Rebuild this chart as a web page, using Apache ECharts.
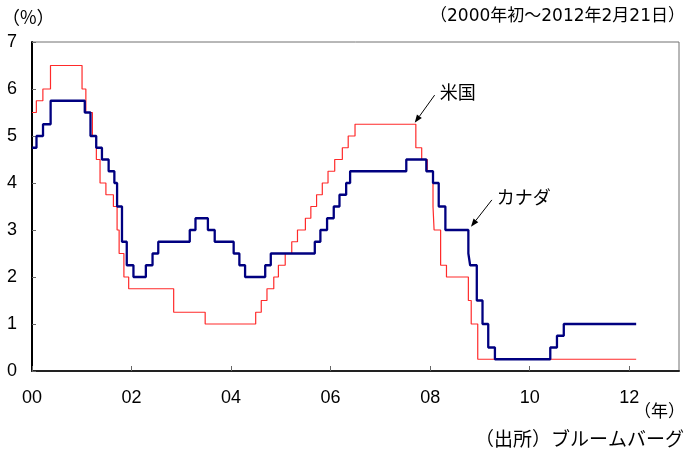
<!DOCTYPE html>
<html>
<head>
<meta charset="UTF-8">
<title>米国とカナダの政策金利</title>
<script src="https://cdn.jsdelivr.net/npm/echarts@6/dist/echarts.min.js"></script>
<style>
  html, body { margin: 0; padding: 0; background: #fff; }
  #main { width: 689px; height: 456px; }
</style>
</head>
<body>
<div id="main"></div>
<script>
// 米国 FF金利誘導目標（変更日, 水準%）
var usDates = ['2000-01-01','2000-02-02','2000-03-21','2000-05-16','2001-01-03','2001-01-31','2001-03-20','2001-04-18',
  '2001-05-15','2001-06-27','2001-08-21','2001-09-17','2001-10-02','2001-11-06','2001-12-11','2002-11-06','2003-06-25',
  '2004-06-30','2004-08-10','2004-09-21','2004-11-10','2004-12-14','2005-02-02','2005-03-22','2005-05-03','2005-06-30',
  '2005-08-09','2005-09-20','2005-11-01','2005-12-13','2006-01-31','2006-03-28','2006-05-10','2006-06-29','2007-09-18',
  '2007-10-31','2007-12-11','2008-01-22','2008-01-30','2008-03-18','2008-04-30','2008-10-08','2008-10-29','2008-12-16',
  '2012-02-21'];
var usRates = [5.5, 5.75, 6.0, 6.5, 6.0, 5.5, 5.0, 4.5,
  4.0, 3.75, 3.5, 3.0, 2.5, 2.0, 1.75, 1.25, 1.0,
  1.25, 1.5, 1.75, 2.0, 2.25, 2.5, 2.75, 3.0, 3.25,
  3.5, 3.75, 4.0, 4.25, 4.5, 4.75, 5.0, 5.25, 4.75,
  4.5, 4.25, 3.5, 3.0, 2.25, 2.0, 1.5, 1.0, 0.25,
  0.25];

// カナダ 翌日物金利誘導目標
var caDates = ['2000-01-01','2000-02-03','2000-03-22','2000-05-17','2001-01-23','2001-03-06','2001-04-17','2001-05-29',
  '2001-07-17','2001-08-28','2001-09-17','2001-10-23','2001-11-27','2002-01-15','2002-04-16','2002-06-04','2002-07-16',
  '2003-03-04','2003-04-15','2003-07-15','2003-09-03','2004-01-20','2004-03-02','2004-04-13','2004-09-08','2004-10-19',
  '2005-09-07','2005-10-18','2005-12-06','2006-01-24','2006-03-07','2006-04-25','2006-05-24','2007-07-10','2007-12-04',
  '2008-01-22','2008-03-04','2008-04-22','2008-10-08','2008-10-21','2008-12-09','2009-01-20','2009-03-03','2009-04-21',
  '2010-06-01','2010-07-20','2010-09-08','2012-02-21'];
var caRates = [4.75, 5.0, 5.25, 5.75, 5.5, 5.0, 4.75, 4.5,
  4.25, 4.0, 3.5, 2.75, 2.25, 2.0, 2.25, 2.5, 2.75,
  3.0, 3.25, 3.0, 2.75, 2.5, 2.25, 2.0, 2.25, 2.5,
  2.75, 3.0, 3.25, 3.5, 3.75, 4.0, 4.25, 4.5, 4.25,
  4.0, 3.5, 3.0, 2.5, 2.25, 1.5, 1.0, 0.5, 0.25,
  0.5, 0.75, 1.0, 1.0];

var yearTicks = ['00', '02', '04', '06', '08', '10', '12'];

// 注記: [テキスト, 矢印の始点(年,%), 矢印の先端(年,%)]
var notes = [
  ['米国',   [8.09, 5.87], [7.69, 5.28]],
  ['カナダ', [9.24, 3.64], [8.82, 3.07]]
];

function toYear(s) {
  var p = s.split('-').map(Number);
  var t0 = Date.UTC(p[0], 0, 1), t1 = Date.UTC(p[0] + 1, 0, 1);
  return (p[0] - 2000) + (Date.UTC(p[0], p[1] - 1, p[2]) - t0) / (t1 - t0);
}
function pairs(dates, vals) {
  return dates.map(function (d, i) { return [toYear(d), vals[i]]; });
}

var jpFont = '"Noto Sans CJK JP", sans-serif';
var numFont = '"Liberation Sans", Arial, sans-serif';

function txt(opt, s, size, fam) {
  opt.type = 'text';
  opt.z = 10;
  opt.style = { text: s, fontSize: size, fontFamily: fam || jpFont, fontWeight: 'normal', fill: '#000' };
  return opt;
}

var chart = echarts.init(document.getElementById('main'));
chart.setOption({
  animation: false,
  backgroundColor: '#fff',
  grid: { left: 32, right: 10, top: 42, bottom: 85, show: true, borderColor: '#707070', borderWidth: 1 },
  xAxis: {
    type: 'value', min: 0, max: 13, interval: 2,
    splitLine: { show: false },
    axisLine: { lineStyle: { color: '#222', width: 2 } },
    axisTick: { inside: true, length: 5, lineStyle: { color: '#666' } },
    axisLabel: {
      showMaxLabel: false, margin: 18, color: '#000', fontSize: 18, fontFamily: numFont,
      formatter: function (v) { return yearTicks[v / 2] || ''; }
    }
  },
  yAxis: {
    type: 'value', min: 0, max: 7, interval: 1,
    splitLine: { show: false },
    axisLine: { lineStyle: { color: '#000', width: 2 } },
    axisTick: { inside: true, length: 4, lineStyle: { color: '#666' } },
    axisLabel: { margin: 15, color: '#000', fontSize: 18, fontFamily: numFont }
  },
  series: [
    {
      name: '米国', type: 'line', step: 'end', showSymbol: false,
      data: pairs(usDates, usRates),
      lineStyle: { color: '#ff2a2a', width: 1.2 }, z: 2
    },
    {
      name: 'カナダ', type: 'line', step: 'end', showSymbol: false,
      data: pairs(caDates, caRates),
      lineStyle: { color: '#000080', width: 2.3 }, z: 3
    }
  ]
});

// 見出し・出所・注記をまとめて配置
var mixFont = '"DejaVu Sans", "Noto Sans CJK JP", sans-serif';
var gfx = [
  txt({ left: 2, top: 8 }, '（%）', 18),
  txt({ right: 4, top: 8 }, '（2000年初～2012年2月21日）', 17, mixFont),
  txt({ right: 4, top: 402 }, '（年）', 17),
  txt({ right: 5, top: 429 }, '（出所）ブルームバーグ', 19)
];
notes.forEach(function (n) {
  var a = chart.convertToPixel({ gridIndex: 0 }, n[1]);
  var b = chart.convertToPixel({ gridIndex: 0 }, n[2]);
  var ang = Math.atan2(b[1] - a[1], b[0] - a[0]);
  var L = 8, W = 3;
  var bx = b[0] - L * Math.cos(ang), by = b[1] - L * Math.sin(ang);
  gfx.push({ type: 'line', z: 10, shape: { x1: a[0], y1: a[1], x2: bx, y2: by }, style: { stroke: '#000', lineWidth: 1 } });
  gfx.push({
    type: 'polygon', z: 10,
    shape: { points: [[b[0], b[1]], [bx + W * Math.sin(ang), by - W * Math.cos(ang)], [bx - W * Math.sin(ang), by + W * Math.cos(ang)]] },
    style: { fill: '#000' }
  });
  gfx.push(txt({ x: a[0] + 5, y: a[1] - 12 }, n[0], 18));
});
chart.setOption({ graphic: gfx });
</script>
</body>
</html>
